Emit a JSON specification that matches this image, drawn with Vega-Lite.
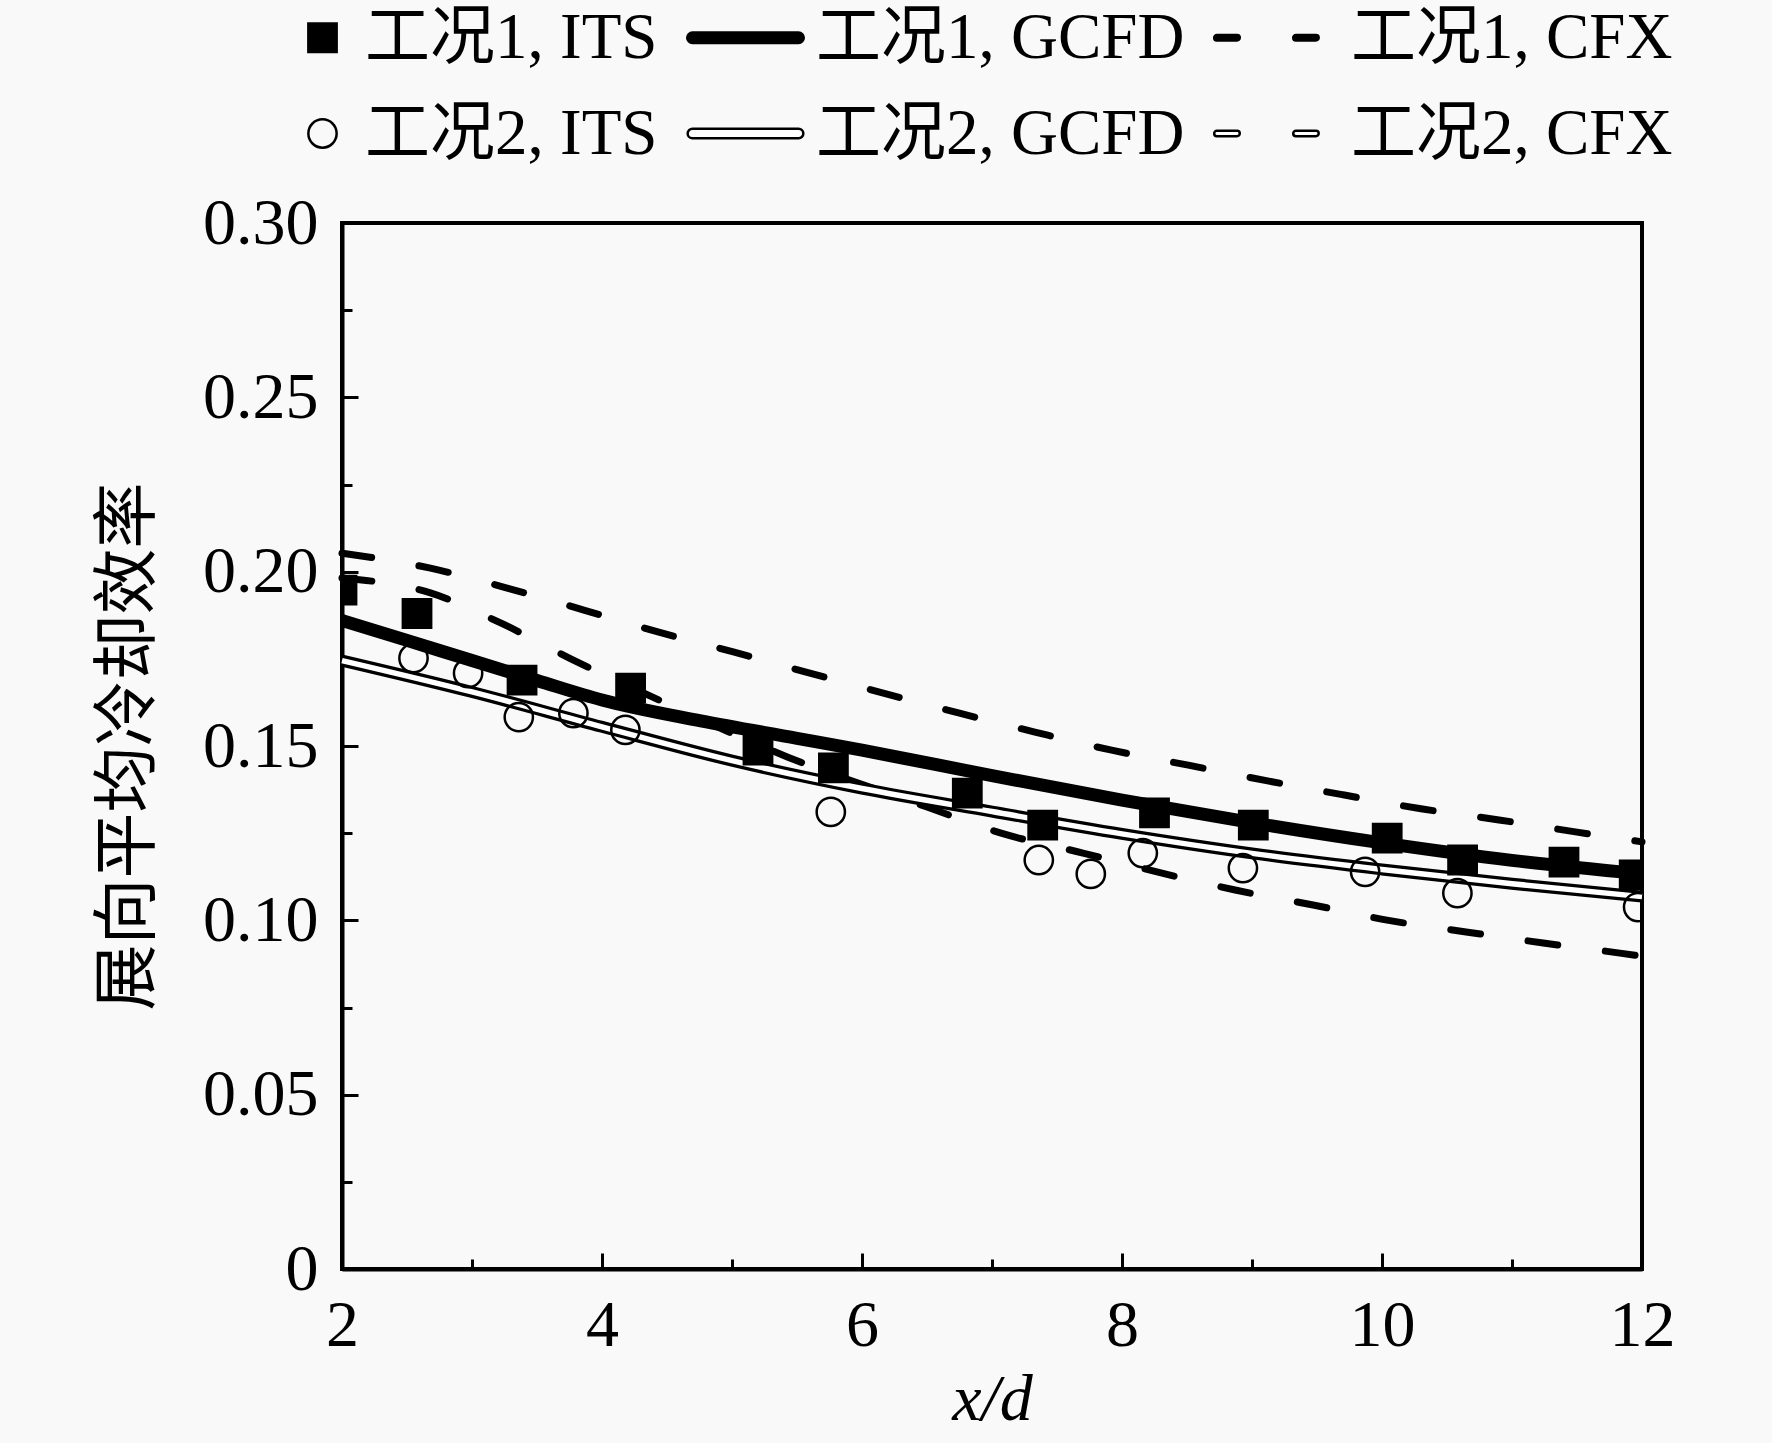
{
  "$schema": "https://vega.github.io/schema/vega-lite/v6.json",
  "width": 1300,
  "height": 1046,
  "autosize": "none",
  "padding": {"left": 342, "top": 223, "right": 130, "bottom": 174},
  "background": "#f9f9f9",
  "config": {
    "view": {"stroke": "black", "strokeWidth": 4},
    "axis": {
      "grid": false,
      "domainColor": "black",
      "domainWidth": 4,
      "tickColor": "black",
      "tickWidth": 3,
      "labelColor": "black",
      "titleColor": "black",
      "labelFont": "Liberation Serif",
      "labelFontSize": 66,
      "titleFontSize": 66,
      "titleFontWeight": "normal",
      "labelOverlap": false,
      "labelFlush": false
    },
    "legend": {
      "orient": "none",
      "legendX": -52,
      "legendY": -218,
      "columns": 3,
      "direction": "horizontal",
      "title": null,
      "labelFont": "Liberation Serif, Noto Sans CJK SC",
      "labelFontSize": 65,
      "labelColor": "black",
      "labelOffset": 10,
      "labelLimit": 0,
      "columnPadding": 24,
      "rowPadding": 30,
      "symbolSize": 800,
      "symbolStrokeColor": "black",
      "symbolOpacity": 1,
      "padding": 0
    }
  },
  "datasets": {
    "its": [
      {"series": "工况1, ITS", "x": 2.0, "y": 0.1947},
      {"series": "工况1, ITS", "x": 2.577, "y": 0.188},
      {"series": "工况1, ITS", "x": 3.385, "y": 0.1689},
      {"series": "工况1, ITS", "x": 4.22, "y": 0.1666},
      {"series": "工况1, ITS", "x": 5.2, "y": 0.1488},
      {"series": "工况1, ITS", "x": 5.78, "y": 0.1437},
      {"series": "工况1, ITS", "x": 6.81, "y": 0.1365},
      {"series": "工况1, ITS", "x": 7.39, "y": 0.1273},
      {"series": "工况1, ITS", "x": 8.25, "y": 0.1308},
      {"series": "工况1, ITS", "x": 9.01, "y": 0.1273},
      {"series": "工况1, ITS", "x": 10.04, "y": 0.1236},
      {"series": "工况1, ITS", "x": 10.62, "y": 0.1173},
      {"series": "工况1, ITS", "x": 11.4, "y": 0.1167},
      {"series": "工况1, ITS", "x": 11.94, "y": 0.113},
      {"series": "工况2, ITS", "x": 2.55, "y": 0.1752},
      {"series": "工况2, ITS", "x": 2.97, "y": 0.1709},
      {"series": "工况2, ITS", "x": 3.36, "y": 0.1583},
      {"series": "工况2, ITS", "x": 3.78, "y": 0.1594},
      {"series": "工况2, ITS", "x": 4.18, "y": 0.1546},
      {"series": "工况2, ITS", "x": 5.76, "y": 0.1311},
      {"series": "工况2, ITS", "x": 7.36, "y": 0.1173},
      {"series": "工况2, ITS", "x": 7.76, "y": 0.1133},
      {"series": "工况2, ITS", "x": 8.16, "y": 0.1193},
      {"series": "工况2, ITS", "x": 8.93, "y": 0.115},
      {"series": "工况2, ITS", "x": 9.87, "y": 0.1139},
      {"series": "工况2, ITS", "x": 10.58, "y": 0.1078},
      {"series": "工况2, ITS", "x": 11.97, "y": 0.1038}
    ],
    "gcfd1": [
      {"x": 2, "y": 0.186}, {"x": 2.5, "y": 0.1803}, {"x": 3, "y": 0.1745},
      {"x": 3.5, "y": 0.1688}, {"x": 4, "y": 0.1632}, {"x": 4.76, "y": 0.1572},
      {"x": 5.5, "y": 0.1522}, {"x": 6, "y": 0.1488}, {"x": 7, "y": 0.1415},
      {"x": 8, "y": 0.1345}, {"x": 9, "y": 0.128},
      {"x": 10, "y": 0.1222}, {"x": 11, "y": 0.1172}, {"x": 12, "y": 0.1133}
    ],
    "gcfd2": [
      {"x": 2, "y": 0.1745}, {"x": 3, "y": 0.1655}, {"x": 4, "y": 0.1555},
      {"x": 5, "y": 0.1458}, {"x": 6, "y": 0.1378}, {"x": 7, "y": 0.1312},
      {"x": 8, "y": 0.1248}, {"x": 9, "y": 0.1192},
      {"x": 10, "y": 0.1146}, {"x": 11, "y": 0.1105}, {"x": 12, "y": 0.1068}
    ],
    "cfx1": [
      {"x": 2, "y": 0.2053}, {"x": 2.68, "y": 0.201}, {"x": 3.27, "y": 0.1953},
      {"x": 3.86, "y": 0.189}, {"x": 4.43, "y": 0.1827}, {"x": 5.01, "y": 0.177},
      {"x": 5.57, "y": 0.1712}, {"x": 6.75, "y": 0.1594}, {"x": 7.33, "y": 0.154},
      {"x": 7.92, "y": 0.1488}, {"x": 8.51, "y": 0.1445}, {"x": 9.12, "y": 0.14},
      {"x": 9.7, "y": 0.136}, {"x": 10.3, "y": 0.132}, {"x": 10.9, "y": 0.1288},
      {"x": 11.5, "y": 0.1253}, {"x": 12, "y": 0.1225}
    ],
    "cfx2": [
      {"x": 2, "y": 0.1982}, {"x": 2.68, "y": 0.1939}, {"x": 3.22, "y": 0.1853},
      {"x": 3.76, "y": 0.175}, {"x": 4.39, "y": 0.164}, {"x": 5.43, "y": 0.1468},
      {"x": 6.5, "y": 0.1325}, {"x": 7.07, "y": 0.125}, {"x": 7.7, "y": 0.1193},
      {"x": 8.3, "y": 0.1136}, {"x": 8.87, "y": 0.1087}, {"x": 9.47, "y": 0.1044},
      {"x": 10.05, "y": 0.1}, {"x": 10.66, "y": 0.0966}, {"x": 11.24, "y": 0.0935},
      {"x": 11.83, "y": 0.0906}, {"x": 12, "y": 0.0897}
    ]
  },
  "encoding": {
    "x": {
      "field": "x", "type": "quantitative",
      "scale": {"domain": [2, 12], "nice": false, "zero": false},
      "axis": {
        "title": "x/d",
        "titleFont": "Liberation Serif",
        "titleFontStyle": "italic",
        "titlePadding": 3,
        "values": [2, 3, 4, 5, 6, 7, 8, 9, 10, 11, 12],
        "labelExpr": "datum.value % 2 == 0 ? datum.label : ''",
        "tickSize": {"condition": {"test": "datum.value % 2 == 0", "value": -16}, "value": -10},
        "labelPadding": 40
      }
    },
    "y": {
      "field": "y", "type": "quantitative",
      "scale": {"domain": [0, 0.3], "nice": false},
      "axis": {
        "title": "展向平均冷却效率",
        "titleFont": "Noto Sans CJK SC",
        "titlePadding": 40,
        "values": [0, 0.025, 0.05, 0.075, 0.1, 0.125, 0.15, 0.175, 0.2, 0.225, 0.25, 0.275, 0.3],
        "labelExpr": "datum.value == 0 ? '0' : (round(datum.value * 1000) % 50 == 0 ? format(datum.value, '.2f') : '')",
        "tickSize": {"condition": {"test": "round(datum.value * 1000) % 50 == 0", "value": -16}, "value": -10},
        "labelPadding": 40
      }
    }
  },
  "layer": [
    {
      "data": {"name": "cfx1"},
      "mark": {"type": "line", "color": "black", "strokeWidth": 7, "strokeCap": "round", "strokeDash": [30, 48], "interpolate": "monotone"}
    },
    {
      "data": {"name": "cfx2"},
      "mark": {"type": "line", "color": "black", "strokeWidth": 7, "strokeCap": "round", "strokeDash": [30, 48], "interpolate": "monotone"}
    },
    {
      "data": {"name": "gcfd1"},
      "mark": {"type": "line", "color": "black", "strokeWidth": 13, "strokeJoin": "round", "interpolate": "monotone"}
    },
    {
      "data": {"name": "gcfd2"},
      "mark": {"type": "line", "color": "black", "strokeWidth": 12, "strokeJoin": "round", "interpolate": "monotone"}
    },
    {
      "data": {"name": "gcfd2"},
      "mark": {"type": "line", "color": "white", "strokeWidth": 5.5, "strokeJoin": "round", "interpolate": "monotone"}
    },
    {
      "data": {"name": "its"},
      "mark": {"type": "point", "filled": true, "size": 800, "opacity": 1, "clip": true},
      "encoding": {
        "shape": {
          "field": "series", "type": "nominal",
          "scale": {
            "domain": ["工况1, ITS", "工况1, GCFD", "工况1, CFX", "工况2, ITS", "工况2, GCFD", "工况2, CFX"],
            "range": [
              "square",
              "M-5.73,-0.37H1.77A0.37,0.37 0 0 1 1.77,0.37H-5.73A0.37,0.37 0 0 1 -5.73,-0.37Z",
              "M-6.48,-0.19H-5.05A0.19,0.19 0 0 1 -5.05,0.19H-6.48A0.19,0.19 0 0 1 -6.48,-0.19Z M-0.89,-0.19H0.53A0.19,0.19 0 0 1 0.53,0.19H-0.89A0.19,0.19 0 0 1 -0.89,-0.19Z",
              "circle",
              "M-5.73,-0.34H1.77A0.34,0.34 0 0 1 1.77,0.34H-5.73A0.34,0.34 0 0 1 -5.73,-0.34Z",
              "M-6.48,-0.19H-5.05A0.19,0.19 0 0 1 -5.05,0.19H-6.48A0.19,0.19 0 0 1 -6.48,-0.19Z M-0.89,-0.19H0.53A0.19,0.19 0 0 1 0.53,0.19H-0.89A0.19,0.19 0 0 1 -0.89,-0.19Z"
            ]
          }
        },
        "fill": {
          "field": "series", "type": "nominal",
          "scale": {
            "domain": ["工况1, ITS", "工况1, GCFD", "工况1, CFX", "工况2, ITS", "工况2, GCFD", "工况2, CFX"],
            "range": ["black", "black", "black", "transparent", "white", "white"]
          }
        },
        "stroke": {
          "field": "series", "type": "nominal",
          "scale": {
            "domain": ["工况1, ITS", "工况1, GCFD", "工况1, CFX", "工况2, ITS", "工况2, GCFD", "工况2, CFX"],
            "range": ["black", "black", "black", "black", "black", "black"]
          }
        },
        "strokeWidth": {
          "field": "series", "type": "nominal",
          "scale": {
            "domain": ["工况1, ITS", "工况1, GCFD", "工况1, CFX", "工况2, ITS", "工况2, GCFD", "工况2, CFX"],
            "range": [2.5, 2.5, 2.5, 2.5, 4.5, 3.5]
          }
        }
      }
    }
  ]
}
